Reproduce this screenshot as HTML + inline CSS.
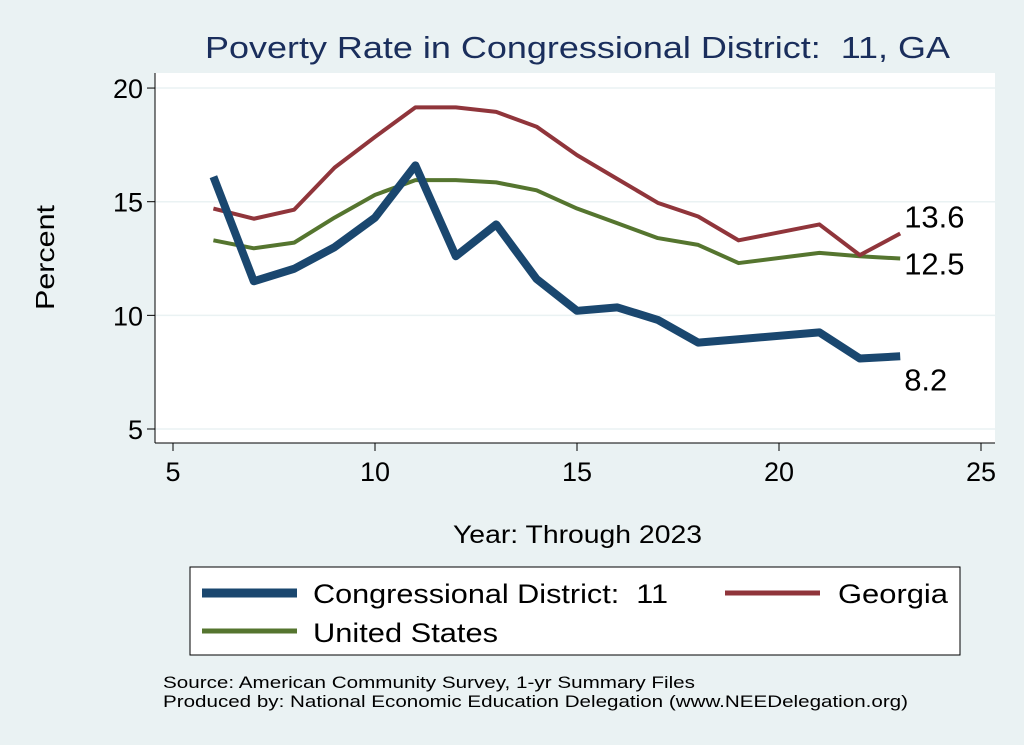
<!DOCTYPE html>
<html><head><meta charset="utf-8"><style>
body{margin:0;background:#eaf2f3;}
svg{display:block;font-family:"Liberation Sans",Arial,sans-serif;}
text{white-space:pre;}
</style></head><body>
<svg width="1024" height="745">
<rect x="0" y="0" width="1024" height="745" fill="#eaf2f3"/>
<text x="205" y="58" font-size="31" fill="#1a2e5c" textLength="745" lengthAdjust="spacingAndGlyphs">Poverty Rate in Congressional District:  11, GA</text>
<rect x="155" y="73" width="840" height="370" fill="#fff"/>
<g id="grid"></g><g id="axes"></g><g id="series"></g>
<text transform="translate(54,310) rotate(-90)" font-size="26" textLength="105" lengthAdjust="spacingAndGlyphs">Percent</text>
<text x="453" y="543" font-size="25" textLength="249" lengthAdjust="spacingAndGlyphs">Year: Through 2023</text>
<g>
<rect x="190" y="567" width="770" height="88" fill="#fff" stroke="#000" stroke-width="1"/>
<line x1="202" y1="593" x2="297" y2="593" stroke="#1a476f" stroke-width="9"/>
<text x="313" y="603" font-size="27" textLength="355" lengthAdjust="spacingAndGlyphs">Congressional District:  11</text>
<line x1="725" y1="593" x2="820" y2="593" stroke="#90353b" stroke-width="5"/>
<text x="838" y="603" font-size="27" textLength="110" lengthAdjust="spacingAndGlyphs">Georgia</text>
<line x1="202" y1="631" x2="297" y2="631" stroke="#55752f" stroke-width="5"/>
<text x="313" y="642" font-size="27" textLength="185" lengthAdjust="spacingAndGlyphs">United States</text>
</g>
<text x="163" y="688" font-size="17" textLength="532" lengthAdjust="spacingAndGlyphs">Source: American Community Survey, 1-yr Summary Files</text>
<text x="163" y="707" font-size="17" textLength="745" lengthAdjust="spacingAndGlyphs">Produced by: National Economic Education Delegation (www.NEEDelegation.org)</text>
</svg>
<script>
const years=[6,7,8,9,10,11,12,13,14,15,16,17,18,19,21,22,23];
const cd11=[16.1,11.5,12.05,13.0,14.3,16.6,12.6,14.0,11.6,10.2,10.35,9.8,8.8,8.95,9.25,8.1,8.2];
const georgia=[14.7,14.25,14.65,16.5,17.85,19.15,19.15,18.95,18.3,17.05,16.0,14.95,14.35,13.3,14.0,12.65,13.6];
const us=[13.3,12.95,13.2,14.3,15.3,15.95,15.95,15.85,15.5,14.7,14.05,13.4,13.1,12.3,12.75,12.6,12.5];
const xTicks=[5,10,15,20,25];
const yTicks=[5,10,15,20];
const NS="http://www.w3.org/2000/svg";
const X=v=>173+(v-5)*40.4;
const Y=v=>429-(v-5)*22.73;
function mk(t,a,p){const e=document.createElementNS(NS,t);for(const k in a)e.setAttribute(k,a[k]);p.appendChild(e);return e;}
const grid=document.getElementById('grid'),axes=document.getElementById('axes'),ser=document.getElementById('series');
yTicks.forEach(t=>{
 const g=mk('line',{x1:155,x2:995,y1:Y(t),y2:Y(t),stroke:'#eaf2f3','stroke-width':1.5},grid);
 
 
 const tk=mk('line',{x1:147,x2:155,y1:Y(t),y2:Y(t),stroke:'#000'},axes);
 
 
 const lb=mk('text',{x:143,y:Y(t)+10,'font-size':27,'text-anchor':'end'},axes);lb.textContent=t;
 
 
});
mk('line',{x1:155,x2:155,y1:73,y2:443,stroke:'#000'},axes);
mk('line',{x1:155,x2:995,y1:443,y2:443,stroke:'#000'},axes);
xTicks.forEach(t=>{
 const tk=mk('line',{x1:X(t),x2:X(t),y1:443,y2:451,stroke:'#000'},axes);
 
 
 const lb=mk('text',{x:X(t),y:481,'font-size':27,'text-anchor':'middle'},axes);lb.textContent=t;
 
 
});
function line(vals,color,w,name){
 const p=mk('polyline',{points:years.map((y,i)=>X(y)+','+Y(vals[i])).join(' '),fill:'none',stroke:color,'stroke-width':w,'stroke-linejoin':'round'},ser);
 
 
}
line(us,'#55752f',4,'line-united-states');
line(georgia,'#90353b',4,'line-georgia');
line(cd11,'#1a476f',8,'line-cd11');
function endLabel(vals,dy,name){
 const v=vals[vals.length-1];
 const t=mk('text',{x:X(years[years.length-1])+4,y:Y(v)+dy,'font-size':31},ser);t.textContent=v.toFixed(1);
 
 
}
endLabel(georgia,-6,'label-georgia-end');
endLabel(us,16,'label-us-end');
endLabel(cd11,34,'label-cd11-end');
</script>
</body></html>
